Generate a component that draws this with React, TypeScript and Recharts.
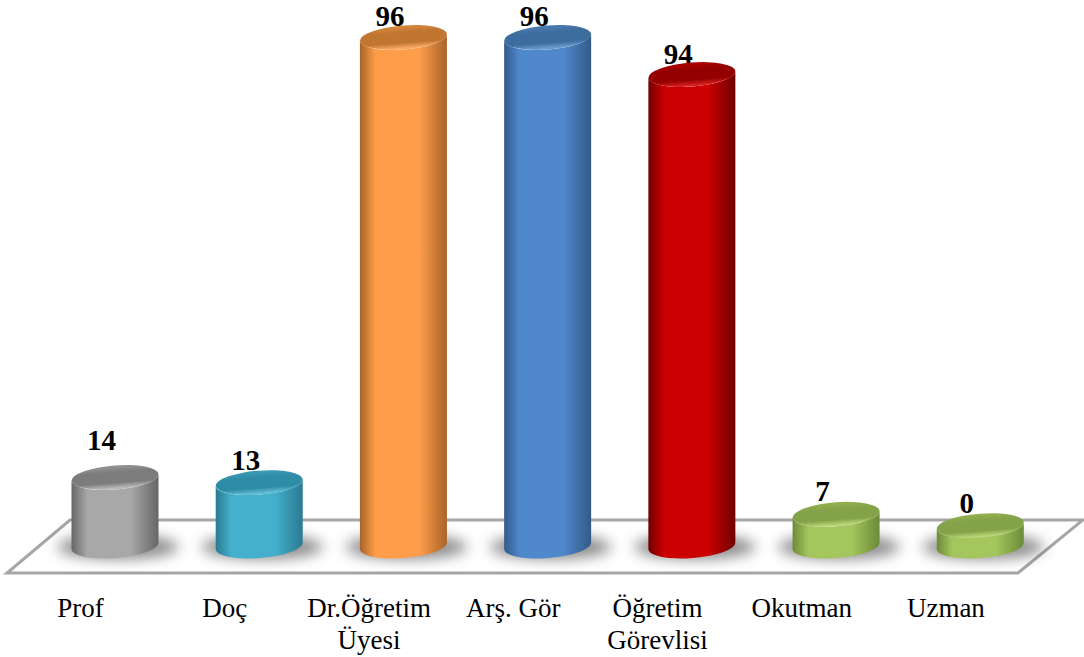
import React from "react";
import { BarChart, Bar, XAxis, YAxis, Customized } from "recharts";

// Category names as printed on the axis ("\n" = line break in the label)
const categories = ["Prof", "Doç", "Dr.Öğretim\nÜyesi", "Arş. Gör", "Öğretim\nGörevlisi", "Okutman", "Uzman"];
// Numbers printed above the bars
const printedValues = [14, 13, 96, 96, 94, 7, 0];
// Heights (the source's drawn heights differ from its printed numbers for the last bars)
const drawnHeights = [14.06, 13.1, 96, 96, 89.1, 7.2, 5.1];
const bodyColors = ["#a8a8a8", "#45b0cc", "#ff9d4a", "#5088cc", "#cc0000", "#a4c65c", "#a4c65c"];
const edgeColors = ["#666666", "#2a7a90", "#a8642a", "#335a88", "#700000", "#6c8a38", "#6c8a38"];
const topColors = ["#7c7c7c", "#2f8ca6", "#c07530", "#3d6c9e", "#940000", "#84a248", "#84a248"];
const topLightColors = ["#969696", "#3c9cb6", "#d88a40", "#4c7cb0", "#b00000", "#94b250", "#94b250"];
const rimColors = ["#b8b8b8", "#62bcd4", "#f8a860", "#6a9ad0", "#d42020", "#b8d474", "#b8d474"];
const labelLift = [14, 0, -2, -2, -2, 0, 0];

const data = categories.map((c, i) => ({ name: c, height: drawnHeights[i], printed: printedValues[i] }));

const RX = 43.6;
const RY = 12;
const ROT = -4.5;
const TILT = 3.5;
const SERIF = "'Liberation Serif', serif";

const Cylinder = (props: any) => {
  const { x, y, width, height, index, payload } = props;
  const cx = x + width / 2;
  const yb = y + height;
  const l = cx - width / 2;
  const r = cx + width / 2;
  const gid = `side${index}`;
  const tid = `top${index}`;
  const side = `M${l},${y + TILT} L${l},${yb + TILT} A${RX},${RY} ${ROT} 0 0 ${r},${yb - TILT} L${r},${y - TILT} A${RX},${RY} ${ROT} 0 1 ${l},${y + TILT} Z`;
  return (
    <g>
      <defs>
        <linearGradient id={gid} x1="0" x2="1" y1="0" y2="0">
          <stop offset="0" stopColor={edgeColors[index]} />
          <stop offset="0.18" stopColor={bodyColors[index]} />
          <stop offset="0.68" stopColor={bodyColors[index]} />
          <stop offset="1" stopColor={edgeColors[index]} />
        </linearGradient>
        <linearGradient id={tid} x1="0" x2="0" y1="0" y2="1">
          <stop offset="0" stopColor={topLightColors[index]} />
          <stop offset="0.3" stopColor={topColors[index]} />
          <stop offset="0.72" stopColor={topColors[index]} />
          <stop offset="0.94" stopColor={rimColors[index]} />
          <stop offset="1" stopColor={rimColors[index]} />
        </linearGradient>
      </defs>
      <text
        x={cx - 13.5}
        y={y - RY - 1 - labelLift[index]}
        textAnchor="middle"
        fontFamily={SERIF}
        fontWeight="bold"
        fontSize={29}
        fill="#000"
      >
        {payload.printed}
      </text>
      <ellipse cx={cx + 3} cy={yb + 1} rx={RX + 17} ry={RY} fill="#4a4a4a" opacity={0.65} filter="url(#soft)" />
      <path d={side} fill={`url(#${gid})`} />
      <ellipse cx={cx} cy={y} rx={RX} ry={RY} transform={`rotate(${ROT} ${cx} ${y})`} fill={`url(#${tid})`} />
    </g>
  );
};

const Tick = (props: any) => {
  const { x, y, payload } = props;
  const lines = String(payload.value).split("\n");
  return (
    <text x={x - 34} y={y} textAnchor="middle" fontFamily={SERIF} fontSize={27} fill="#000">
      {lines.map((t, i) => (
        <tspan key={t} x={x - 34} dy={i === 0 ? 63 : 32}>
          {t}
        </tspan>
      ))}
    </text>
  );
};

const Floor = () => (
  <g>
    <defs>
      <filter id="soft" x="-30%" y="-80%" width="160%" height="260%">
        <feGaussianBlur stdDeviation="7" />
      </filter>
    </defs>
    <polygon points="7,573 1018,573 1083,520 70,520" fill="#fff" stroke="#a6a6a6" strokeWidth={3} />
  </g>
);

export default function App() {
  return (
    <div style={{ width: 1084, height: 657, background: "#fff" }}>
      <style>{"body{margin:0}"}</style>
      <BarChart width={1084} height={657} data={data} margin={{ top: 16, right: 32, bottom: 0, left: 42.5 }}>
        <Customized component={Floor} />
        <XAxis dataKey="name" axisLine={false} tickLine={false} interval={0} height={111} tick={<Tick />} />
        <YAxis hide domain={[1.3, 100]} />
        <Bar dataKey="height" barSize={87} shape={<Cylinder />} isAnimationActive={false} />
      </BarChart>
    </div>
  );
}
